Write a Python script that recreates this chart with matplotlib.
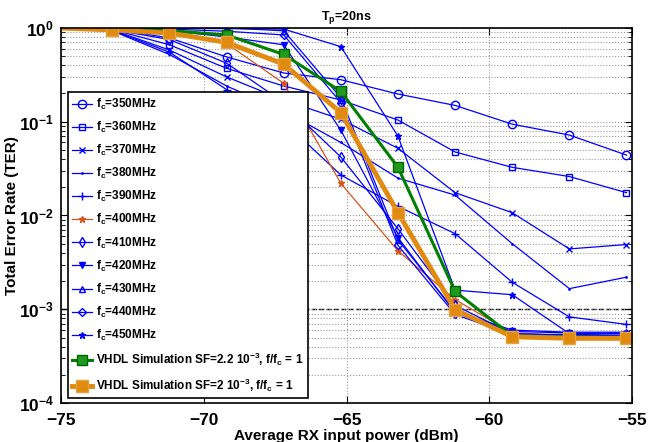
#!/usr/bin/env python3

import matplotlib.pyplot as plt
import numpy as np

plt.rcParams['font.family'] = ['Liberation Sans', 'DejaVu Sans']
plt.rcParams['font.weight'] = 'bold'
plt.rcParams['mathtext.fontset'] = 'custom'
plt.rcParams['mathtext.rm'] = 'Liberation Sans:bold'
plt.rcParams['mathtext.bf'] = 'Liberation Sans:bold'
plt.rcParams['mathtext.default'] = 'bf'

# measured RX power (dBm)
power = [-75.2, -73.2, -71.2, -69.2, -67.2, -65.2, -63.2, -61.2, -59.2, -57.2, -55.2]

ter350 = [1, 0.98, 0.78, 0.49, 0.33, 0.28, 0.197, 0.149, 0.094, 0.072, 0.044]
ter360 = [1, 0.96, 0.66, 0.37, 0.24, 0.17, 0.104, 0.0475, 0.0326, 0.026, 0.0175]
ter370 = [1, 0.95, 0.58, 0.30, 0.17, 0.106, 0.052, 0.0175, 0.0107, 0.0044, 0.0049]
ter380 = [1, 0.93, 0.52, 0.24, 0.13, 0.06, 0.025, 0.0165, 0.0050, 0.00166, 0.0022]
ter390 = [1, 0.94, 0.55, 0.22, 0.10, 0.027, 0.0125, 0.0064, 0.00194, 0.00083, 0.00069]
ter400 = [1, 0.98, 0.92, 0.68, 0.256, 0.022, 0.0042, 0.00127, 0.00056, 0.00052, 0.00051]
ter410 = [1, 0.96, 0.75, 0.42, 0.16, 0.042, 0.0072, 0.0011, 0.00055, 0.00053, 0.00052]
ter420 = [1, 0.99, 0.93, 0.80, 0.66, 0.081, 0.0058, 0.00092, 0.00058, 0.00056, 0.00055]
ter430 = [1, 1.0, 1.0, 1.0, 0.93, 0.18, 0.0055, 0.00095, 0.0006, 0.00057, 0.00057]
ter440 = [1, 0.99, 0.97, 0.92, 0.84, 0.16, 0.0048, 0.00088, 0.00054, 0.00054, 0.00053]
ter450 = [1, 1.0, 0.99, 0.98, 0.97, 0.63, 0.07, 0.0016, 0.00143, 0.00055, 0.00056]
vhdl22 = [1, 0.99, 0.935, 0.84, 0.52, 0.21, 0.0326, 0.00155, 0.00052, 0.00051, 0.0005]
vhdl20 = [1, 0.95, 0.88, 0.70, 0.41, 0.125, 0.0107, 0.00099, 0.00051, 0.00049, 0.00049]

targetTer = 1e-3

fcSeries = [
    ( 350, ter350, 'o', 'blue', 6 ),
    ( 360, ter360, 's', 'blue', 5 ),
    ( 370, ter370, 'x', 'blue', 4 ),
    ( 380, ter380, '.', 'blue', 2 ),
    ( 390, ter390, '+', 'blue', 6 ),
    ( 400, ter400, '*', '#d95319', 5 ),
    ( 410, ter410, 'd', 'blue', 5 ),
    ( 420, ter420, 'v', 'blue', 4 ),
    ( 430, ter430, '^', 'blue', 5 ),
    ( 440, ter440, 'D', 'blue', 4 ),
    ( 450, ter450, '*', 'blue', 5 ),
]

fig = plt.figure( figsize = ( 6.62, 4.42 ), dpi = 100 )
ax = fig.add_axes( [ 0.092, 0.088, 0.863, 0.849 ] )

for fc, ter, marker, color, ms in fcSeries:
    filled = marker in ( '*', 'v', '.' )
    ax.plot( power, ter, color = color, marker = marker, markersize = ms, linewidth = 0.9,
             markerfacecolor = color if filled else 'none', markeredgewidth = 1.0,
             label = r'f$_c$=%dMHz' % fc )

ax.plot( power, vhdl22, color = '#007f00', marker = 's', markersize = 7, linewidth = 2.2,
         markerfacecolor = '#1f9a1f', markeredgecolor = '#006400',
         label = r'VHDL Simulation SF=2.2 10$^{-3}$, f/f$_c$ = 1' )
ax.plot( power, vhdl20, color = '#e08a10', marker = 's', markersize = 8, linewidth = 3.5,
         markerfacecolor = '#e08a10', markeredgecolor = '#e8a040',
         label = r'VHDL Simulation SF=2 10$^{-3}$, f/f$_c$ = 1' )

ax.axhline( targetTer, color = 'black', linestyle = '--', linewidth = 1.0, zorder = 1 )

ax.set_yscale( 'log' )
ax.set_xlim( -75, -55 )
ax.set_ylim( 1e-4, 1 )
ax.set_xticks( [ -75, -70, -65, -60, -55 ] )
ax.set_xticklabels( [ '\u221275', '\u221270', '\u221265', '\u221260', '\u221255' ] )
ax.grid( True, which = 'major', axis = 'x', linestyle = ':', color = '#999999', linewidth = 0.8 )
ax.grid( True, which = 'both', axis = 'y', linestyle = ':', color = '#999999', linewidth = 0.8 )
ax.tick_params( which = 'both', direction = 'in', top = True, right = True, labelsize = 12.5 )
ax.tick_params( which = 'major', length = 5 )
ax.tick_params( which = 'minor', length = 3 )
ax.tick_params( axis = 'x', pad = 7 )
ax.tick_params( axis = 'y', pad = 5 )
for spine in ax.spines.values():
    spine.set_linewidth( 1.2 )

ax.set_xlabel( 'Average RX input power (dBm)', fontsize = 11, fontweight = 'bold', labelpad = 1 )
ax.set_ylabel( 'Total Error Rate (TER)', fontsize = 11, fontweight = 'bold', labelpad = 0 )
ax.set_title( r'T$_p$=20ns', fontsize = 9, fontweight = 'bold', pad = 6 )

leg = ax.legend( loc = 'lower left', bbox_to_anchor = ( 0.012, 0.013 ), borderaxespad = 0,
                 fontsize = 8.5, labelspacing = 0.68, handlelength = 1.7, handletextpad = 0.3,
                 borderpad = 0.38, fancybox = False, framealpha = 1.0, edgecolor = 'black' )
leg.get_frame().set_linewidth( 1.2 )
leg.set_zorder( 5 )

fig.savefig( 'out.png', dpi = 100 )
